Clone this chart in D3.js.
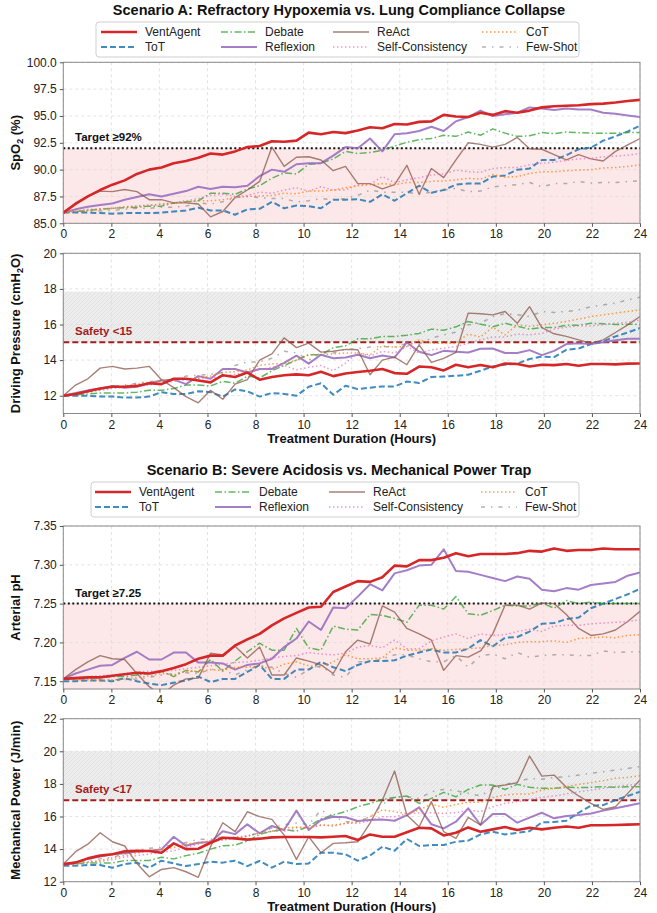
<!DOCTYPE html>
<html>
<head>
<meta charset="utf-8">
<script src="https://cdn.jsdelivr.net/npm/d3@7"></script>
<style>
  body { margin: 0; background: #fff; }
  svg { font-family: "Liberation Sans", Arial, sans-serif; }
</style>
</head>
<body>
<svg id="chart" width="657" height="913"></svg>
<script>
// time points (hours), 48 samples over 24 h
const hours = [0, 0.511, 1.021, 1.532, 2.043, 2.553, 3.064, 3.574, 4.085, 4.596,
  5.106, 5.617, 6.128, 6.638, 7.149, 7.660, 8.170, 8.681, 9.191, 9.702,
  10.213, 10.723, 11.234, 11.745, 12.255, 12.766, 13.277, 13.787, 14.298, 14.809,
  15.319, 15.830, 16.340, 16.851, 17.362, 17.872, 18.383, 18.894, 19.404, 19.915,
  20.426, 20.936, 21.447, 21.957, 22.468, 22.979, 23.489, 24];

const methods = ['VentAgent', 'ToT', 'Debate', 'Reflexion', 'ReAct', 'Self-Consistency', 'CoT', 'Few-Shot'];

// Scenario A: SpO2 (%)
const spo2 = {
  'VentAgent': [86.0,86.8,87.5,88.1,88.6,89.0,89.6,90.0,90.2,90.6,90.8,91.1,91.5,91.4,91.7,92.1,92.2,92.65,92.6,92.7,93.45,93.3,93.5,93.4,93.65,93.95,93.85,94.25,94.2,94.45,94.5,95.1,94.95,94.9,95.3,95.1,95.45,95.3,95.5,95.8,95.9,95.95,96.0,96.1,96.15,96.25,96.4,96.5],
  'ToT': [86.0,86.0,86.0,85.95,85.9,85.95,85.95,85.95,86.0,86.1,86.2,86.45,86.2,86.2,85.8,86.3,86.35,87.0,86.4,86.65,86.6,86.4,87.2,87.2,87.25,87.0,87.7,87.1,87.8,88.5,87.85,88.1,88.6,88.7,88.7,89.35,89.45,90.0,90.1,90.9,90.9,91.35,91.9,92.05,92.7,93.1,93.55,94.1],
  'Debate': [86.0,86.1,86.2,86.3,86.4,86.45,86.5,86.6,86.6,86.9,87.0,87.1,87.8,87.8,87.7,88.2,88.5,89.2,89.7,89.6,90.5,90.6,91.0,91.7,91.5,91.6,91.8,92.2,92.55,92.8,92.9,93.2,93.1,93.5,93.2,93.8,93.4,93.1,93.15,93.45,93.35,93.5,93.45,93.4,93.4,93.4,93.45,93.45],
  'Reflexion': [86.0,86.3,86.55,86.7,86.85,87.2,87.45,87.7,87.5,87.75,88.0,88.4,88.2,88.4,88.35,88.5,89.4,90.0,89.8,90.5,90.6,90.6,91.3,92.1,92.0,92.9,91.7,93.3,93.4,93.6,94.0,93.6,94.5,94.9,95.5,95.0,95.15,95.3,95.8,95.7,95.55,95.7,95.6,95.6,95.3,95.2,95.05,94.9],
  'ReAct': [86.0,86.9,87.5,88.0,87.95,88.15,87.95,87.2,87.2,86.9,86.9,86.8,85.6,86.1,87.4,88.1,88.9,92.1,90.3,91.15,91.2,90.9,89.9,90.3,88.7,88.7,88.2,88.6,90.4,87.7,90.1,89.25,90.9,92.5,92.35,92.1,92.35,93.0,91.95,91.9,91.4,90.9,91.4,91.0,90.8,91.7,92.3,92.9],
  'Self-Consistency': [86.0,86.15,86.3,86.35,86.4,86.55,86.6,86.7,86.75,86.9,87.1,87.3,87.6,87.7,87.5,87.6,87.9,87.8,88.1,88.3,88.0,88.4,88.1,88.1,88.6,88.65,89.35,88.8,89.05,89.25,89.5,89.6,89.95,89.8,89.75,90.1,90.2,90.2,90.45,90.6,90.7,90.85,91.0,91.05,91.2,91.25,91.35,91.5],
  'CoT': [86.0,86.1,86.2,86.3,86.4,86.5,86.6,86.65,86.8,86.9,87.0,87.1,87.1,87.2,87.4,87.5,87.55,87.6,87.8,87.75,88.0,88.0,88.1,88.3,88.5,88.6,88.7,88.6,88.8,88.8,88.9,88.95,89.05,89.2,89.1,89.55,89.3,89.35,89.65,89.8,89.8,89.9,89.95,90.0,90.15,90.2,90.3,90.45],
  'Few-Shot': [86.0,86.05,86.1,86.15,86.2,86.3,86.4,86.4,86.5,86.5,86.6,86.9,86.8,87.0,87.4,87.5,87.4,87.3,87.3,87.0,87.1,87.3,87.2,87.3,87.6,88.1,87.9,87.9,87.9,87.7,87.9,88.1,88.25,87.95,88.0,88.4,88.5,88.6,88.8,88.4,88.7,88.7,88.9,88.75,88.8,88.8,88.9,88.95]
};

// Scenario A: driving pressure (cmH2O)
const drivingPressure = {
  'VentAgent': [12.0,12.1,12.25,12.4,12.5,12.5,12.55,12.7,12.65,12.95,12.95,12.85,12.75,13.15,13.05,13.3,12.9,13.05,13.15,13.2,13.15,13.35,13.1,13.25,13.33,13.4,13.5,13.27,13.23,13.64,13.6,13.42,13.74,13.6,13.72,13.6,13.81,13.78,13.64,13.74,13.72,13.78,13.68,13.78,13.78,13.76,13.8,13.81],
  'ToT': [12.0,12.0,12.0,11.95,11.95,11.9,11.9,11.95,12.2,12.1,12.1,12.25,12.2,11.95,12.35,12.25,11.95,12.15,12.1,12.0,12.5,12.7,12.05,12.56,12.37,12.45,12.52,12.52,12.8,12.71,13.05,13.08,13.12,13.18,13.4,13.64,13.74,13.8,14.06,14.2,14.17,14.58,14.65,14.9,15.05,15.33,15.55,15.8],
  'Debate': [12.0,12.05,12.1,12.15,12.15,12.15,12.2,12.3,12.3,12.4,12.6,12.6,12.55,12.8,12.7,13.1,13.0,13.4,13.7,14.0,14.3,14.3,14.7,14.8,15.2,15.2,15.33,15.33,15.4,15.5,15.74,15.68,15.87,16.17,16.02,15.87,16.07,15.9,15.74,15.83,15.83,15.96,15.96,16.07,16.04,16.0,16.02,16.0],
  'Reflexion': [12.0,12.15,12.3,12.4,12.55,12.45,12.5,12.7,12.85,12.9,12.65,13.1,12.95,13.5,13.5,13.3,13.5,13.5,13.85,14.25,13.8,14.3,14.1,14.15,14.3,14.1,14.26,14.15,14.99,14.47,14.28,14.52,14.47,14.43,14.64,14.65,14.4,14.4,14.56,14.28,14.52,14.9,14.95,14.9,15.0,15.12,15.2,15.2],
  'ReAct': [12.0,12.6,12.95,13.55,13.65,13.5,13.55,13.65,12.9,12.45,11.95,11.6,12.3,11.8,12.65,12.9,14.0,14.35,15.25,14.7,14.95,14.45,14.5,14.6,14.58,13.18,14.0,14.17,13.74,14.86,13.87,14.1,14.43,16.64,16.6,16.54,16.73,16.07,17.0,15.83,15.48,15.33,15.14,14.95,15.14,15.55,15.98,16.45],
  'Self-Consistency': [12.0,12.1,12.2,12.3,12.4,12.5,12.55,12.6,12.7,12.8,12.9,12.95,13.0,13.1,13.2,13.3,13.45,13.6,13.7,13.45,13.6,13.7,13.4,13.83,14.4,14.24,14.49,14.4,14.76,14.4,14.58,14.67,14.76,14.95,15.14,15.3,15.3,15.46,15.42,15.5,15.74,15.85,15.92,15.92,15.98,16.07,16.13,16.26],
  'CoT': [12.0,12.1,12.2,12.35,12.45,12.55,12.65,12.75,12.85,12.9,12.95,13.0,13.1,13.3,13.35,13.45,13.7,13.8,13.8,14.0,14.3,14.3,14.35,14.4,14.4,14.3,14.8,14.73,14.76,15.14,14.95,14.95,14.95,15.46,15.3,15.85,15.42,15.98,15.9,15.98,16.07,16.17,16.3,16.45,16.54,16.64,16.73,16.82],
  'Few-Shot': [12.0,12.1,12.2,12.35,12.5,12.6,12.7,12.8,12.85,12.9,13.1,13.15,13.2,13.3,13.7,13.9,13.9,14.1,14.5,14.4,14.0,14.4,14.4,14.6,14.65,14.73,14.76,14.73,14.95,14.9,15.23,15.42,15.57,15.98,16.07,16.45,16.6,16.55,16.45,16.73,16.68,16.73,16.82,17.0,17.1,17.2,17.38,17.53]
};

// Scenario B: arterial pH
const arterialPH = {
  'VentAgent': [7.153,7.154,7.155,7.155,7.157,7.159,7.161,7.160,7.163,7.167,7.172,7.179,7.183,7.183,7.196,7.204,7.211,7.222,7.231,7.238,7.245,7.246,7.265,7.272,7.279,7.278,7.284,7.299,7.298,7.306,7.306,7.309,7.315,7.311,7.314,7.314,7.314,7.315,7.318,7.317,7.321,7.318,7.319,7.319,7.321,7.320,7.320,7.320],
  'ToT': [7.150,7.150,7.151,7.151,7.150,7.154,7.150,7.147,7.145,7.148,7.151,7.156,7.149,7.153,7.153,7.162,7.171,7.153,7.153,7.165,7.165,7.175,7.168,7.163,7.171,7.176,7.176,7.177,7.183,7.187,7.191,7.187,7.187,7.192,7.203,7.195,7.206,7.207,7.214,7.224,7.225,7.230,7.232,7.244,7.250,7.256,7.262,7.269],
  'Debate': [7.153,7.153,7.154,7.155,7.156,7.156,7.158,7.160,7.163,7.156,7.164,7.162,7.178,7.163,7.176,7.188,7.199,7.190,7.190,7.218,7.193,7.190,7.221,7.217,7.216,7.236,7.235,7.231,7.226,7.248,7.248,7.243,7.259,7.237,7.235,7.241,7.248,7.247,7.247,7.251,7.244,7.254,7.250,7.252,7.250,7.250,7.250,7.250],
  'Reflexion': [7.153,7.160,7.165,7.170,7.171,7.180,7.188,7.178,7.178,7.187,7.187,7.174,7.174,7.173,7.165,7.171,7.173,7.179,7.194,7.205,7.227,7.216,7.245,7.244,7.259,7.275,7.267,7.289,7.293,7.299,7.300,7.320,7.292,7.291,7.287,7.283,7.279,7.285,7.282,7.268,7.266,7.270,7.268,7.274,7.276,7.278,7.286,7.290],
  'ReAct': [7.153,7.165,7.175,7.183,7.179,7.178,7.160,7.143,7.132,7.145,7.153,7.154,7.186,7.184,7.195,7.180,7.194,7.158,7.158,7.180,7.176,7.171,7.160,7.188,7.203,7.198,7.247,7.239,7.218,7.211,7.203,7.164,7.183,7.181,7.189,7.211,7.248,7.248,7.243,7.251,7.250,7.236,7.218,7.209,7.211,7.216,7.227,7.240],
  'Self-Consistency': [7.153,7.155,7.156,7.157,7.158,7.160,7.162,7.163,7.163,7.164,7.166,7.168,7.170,7.172,7.174,7.175,7.177,7.180,7.182,7.183,7.187,7.185,7.184,7.186,7.194,7.196,7.193,7.203,7.192,7.192,7.202,7.207,7.211,7.205,7.211,7.209,7.210,7.214,7.217,7.214,7.221,7.222,7.222,7.224,7.225,7.226,7.227,7.229],
  'CoT': [7.153,7.152,7.152,7.151,7.152,7.153,7.155,7.157,7.160,7.158,7.163,7.163,7.165,7.164,7.168,7.168,7.170,7.165,7.172,7.175,7.170,7.168,7.175,7.184,7.179,7.179,7.180,7.193,7.190,7.190,7.192,7.190,7.191,7.192,7.193,7.196,7.197,7.200,7.201,7.201,7.202,7.200,7.205,7.206,7.207,7.206,7.209,7.210],
  'Few-Shot': [7.153,7.152,7.152,7.152,7.152,7.152,7.153,7.155,7.158,7.160,7.161,7.160,7.165,7.165,7.158,7.165,7.170,7.168,7.160,7.155,7.165,7.170,7.158,7.155,7.175,7.175,7.179,7.184,7.184,7.179,7.175,7.175,7.183,7.168,7.183,7.185,7.179,7.187,7.181,7.183,7.184,7.184,7.183,7.183,7.189,7.187,7.188,7.188]
};

// Scenario B: mechanical power (J/min)
const mechanicalPower = {
  'VentAgent': [13.08,13.17,13.43,13.6,13.68,13.86,13.9,13.88,13.78,14.35,14.0,14.02,14.39,14.7,14.66,14.58,14.64,14.72,14.74,14.74,14.74,14.72,14.76,14.8,14.56,14.9,14.76,14.76,15.03,15.31,15.27,14.84,15.0,15.33,15.07,15.21,15.35,15.17,15.31,15.21,15.31,15.39,15.31,15.46,15.46,15.48,15.5,15.52],
  'ToT': [12.98,12.98,13.02,13.02,12.86,13.08,13.17,12.86,13.29,13.12,12.96,13.08,13.23,13.17,13.29,12.96,13.27,12.86,13.23,13.08,13.12,13.78,13.78,13.68,13.29,13.6,14.15,13.9,14.62,14.19,14.25,14.25,14.45,14.52,14.9,15.07,14.9,15.0,15.1,15.64,15.66,15.74,16.23,16.66,16.7,17.01,17.26,17.52],
  'Debate': [13.05,13.1,13.15,13.15,13.15,13.3,13.3,13.3,13.5,13.4,13.6,13.75,14.0,14.2,14.25,14.5,14.9,15.1,15.2,15.1,15.4,15.85,16.1,16.3,16.6,16.8,17.05,17.17,17.26,16.8,17.11,17.48,17.21,17.66,17.93,17.93,17.66,17.97,17.79,17.73,17.73,17.79,17.77,17.79,17.83,17.79,17.83,17.83],
  'Reflexion': [13.05,13.2,13.4,13.55,13.68,13.74,13.85,13.9,13.98,14.76,14.2,14.39,14.43,15.1,14.92,15.52,14.97,15.42,15.17,16.36,15.17,15.78,15.99,15.95,15.72,15.78,15.82,15.74,16.09,16.56,15.52,15.27,15.68,16.5,15.48,16.15,16.15,15.62,15.93,16.23,15.89,16.03,16.09,16.19,16.36,16.5,16.66,16.81],
  'ReAct': [13.08,13.84,14.3,15.0,14.45,14.19,13.12,12.3,12.75,12.86,12.61,12.27,14.15,15.62,15.07,16.29,15.99,15.82,14.86,13.37,14.76,13.78,14.35,14.39,14.45,15.6,17.0,18.79,16.09,15.37,16.91,15.07,14.66,15.95,15.48,17.83,17.93,18.07,19.71,18.48,18.54,17.79,17.26,16.81,16.44,16.6,17.42,18.24],
  'Self-Consistency': [13.05,13.1,13.2,13.25,13.35,13.5,13.6,13.7,13.8,13.9,14.1,14.3,14.5,14.55,14.65,14.8,15.0,15.1,15.1,15.3,15.35,15.5,15.4,15.58,15.58,15.74,15.99,15.99,16.15,16.23,16.23,16.19,16.23,16.4,16.3,16.6,16.81,16.91,17.05,17.17,17.26,17.38,17.52,17.62,17.73,17.83,17.93,17.99],
  'CoT': [13.05,13.1,13.2,13.3,13.45,13.6,13.75,13.9,14.0,14.1,14.3,14.4,14.5,14.6,14.75,14.8,15.0,15.1,15.3,15.35,15.3,15.45,15.48,15.58,15.68,15.99,16.4,16.3,16.15,16.4,16.76,16.56,16.74,16.87,16.87,17.17,17.32,17.38,17.38,17.62,17.73,17.83,17.97,18.07,18.2,18.34,18.4,18.5],
  'Few-Shot': [13.05,13.15,13.3,13.4,13.5,13.7,13.9,14.05,14.1,14.3,14.4,14.6,14.6,14.75,14.6,14.8,15.0,15.3,15.5,15.6,15.5,16.4,16.0,15.68,15.68,15.95,16.74,17.21,17.21,17.11,17.52,17.66,17.58,17.42,17.26,17.73,17.97,18.13,18.34,18.28,18.4,18.44,18.54,18.65,18.75,18.85,18.95,19.06]
};

const xTicks = [0, 2, 4, 6, 8, 10, 12, 14, 16, 18, 20, 22, 24];

// line styles per method
const styles = {
  'VentAgent':        { color: '#d62728', width: 2.6, dash: null,            opacity: 1 },
  'ToT':              { color: '#1f77b4', width: 2,   dash: '6,3',           opacity: 0.85 },
  'Debate':           { color: '#2ca02c', width: 1.5, dash: '7,2.5,1.5,2.5', opacity: 0.75 },
  'Reflexion':        { color: '#9467bd', width: 2,   dash: null,            opacity: 0.85 },
  'ReAct':            { color: '#8c564b', width: 1.4, dash: null,            opacity: 0.75 },
  'Self-Consistency': { color: '#e377c2', width: 1.5, dash: '1.5,2.5',       opacity: 0.75 },
  'CoT':              { color: '#ff7f0e', width: 1.5, dash: '1.5,2.5',       opacity: 0.75 },
  'Few-Shot':         { color: '#7f7f7f', width: 1.5, dash: '4,6,1.5,6',     opacity: 0.6 }
};

const svg = d3.select('#chart');
const left = 63.3, right = 640;
const x = d3.scaleLinear().domain([0, 24]).range([left, right]);

// hatch pattern for safety bands
const defs = svg.append('defs');
const hatch = defs.append('pattern')
    .attr('id', 'hatch')
    .attr('patternUnits', 'userSpaceOnUse')
    .attr('width', 4).attr('height', 4);
hatch.append('rect').attr('width', 4).attr('height', 4).attr('fill', '#ededed');
hatch.append('path').attr('d', 'M0,4 L4,0 M-1,1 L1,-1 M3,5 L5,3')
    .attr('stroke', '#dcdcdc').attr('stroke-width', 0.7);

function drawPanel(id, p) {
    let y = d3.scaleLinear().domain(p.domain).range([p.bottom, p.top]);
    let g = svg.append('g');

    defs.append('clipPath').attr('id', 'clip' + id)
        .append('rect')
        .attr('x', left).attr('y', p.top)
        .attr('width', right - left).attr('height', p.bottom - p.top);

    // reference zones
    if (p.ref.kind === 'target') {
        g.append('rect')
            .attr('x', left).attr('width', right - left)
            .attr('y', y(p.ref.value)).attr('height', p.bottom - y(p.ref.value))
            .attr('fill', 'rgba(230,50,50,0.11)');
    } else {
        g.append('rect')
            .attr('x', left).attr('width', right - left)
            .attr('y', y(p.ref.bandTop)).attr('height', y(p.ref.value) - y(p.ref.bandTop))
            .attr('fill', 'url(#hatch)');
    }

    // grid
    g.append('g').selectAll('line').data(xTicks).join('line')
        .attr('x1', d => x(d)).attr('x2', d => x(d))
        .attr('y1', p.top).attr('y2', p.bottom)
        .attr('stroke', '#dcdcdc').attr('stroke-width', 0.8).attr('stroke-dasharray', '3,3');
    g.append('g').selectAll('line').data(p.ticks).join('line')
        .attr('x1', left).attr('x2', right)
        .attr('y1', d => y(d)).attr('y2', d => y(d))
        .attr('stroke', '#dcdcdc').attr('stroke-width', 0.8).attr('stroke-dasharray', '3,3');

    // reference line + label
    let refY = y(p.ref.value);
    g.append('line')
        .attr('x1', left).attr('x2', right).attr('y1', refY).attr('y2', refY)
        .attr('stroke', p.ref.kind === 'target' ? '#111' : '#a51c1c')
        .attr('stroke-width', 2)
        .attr('stroke-dasharray', p.ref.kind === 'target' ? '2,2.5' : '6,3');
    g.append('text')
        .attr('x', 75).attr('y', refY - 7)
        .attr('font-size', 11.5).attr('font-weight', 'bold')
        .attr('fill', p.ref.kind === 'target' ? '#111' : '#a51c1c')
        .text(p.ref.text);

    // series
    let lineGen = d3.line()
        .x((d, i) => x(hours[i]))
        .y(d => y(d));
    let lines = g.append('g').attr('clip-path', `url(#clip${id})`);
    let order = methods.filter(m => m !== 'VentAgent').concat(['VentAgent']);
    order.forEach(m => {
        let s = styles[m];
        lines.append('path')
            .attr('d', lineGen(p.data[m]))
            .attr('fill', 'none')
            .attr('stroke', s.color)
            .attr('stroke-width', s.width)
            .attr('stroke-opacity', s.opacity)
            .attr('stroke-dasharray', s.dash)
            .attr('stroke-linejoin', 'round');
    });

    // frame
    g.append('rect')
        .attr('x', left).attr('y', p.top)
        .attr('width', right - left).attr('height', p.bottom - p.top)
        .attr('fill', 'none').attr('stroke', '#8a8a8a').attr('stroke-width', 1);

    // axes
    let xAxis = d3.axisBottom(x).tickValues(xTicks).tickSize(3.5).tickPadding(3);
    let yAxis = d3.axisLeft(y).tickValues(p.ticks).tickFormat(p.fmt).tickSize(3.5).tickPadding(3);
    let ax = g.append('g').attr('transform', `translate(0,${p.bottom})`).call(xAxis);
    let ay = g.append('g').attr('transform', `translate(${left},0)`).call(yAxis);
    [ax, ay].forEach(a => {
        a.select('.domain').remove();
        a.selectAll('.tick line').attr('stroke', '#555');
        a.selectAll('.tick text')
            .attr('font-size', 12)
            .attr('fill', '#222')
            .attr('font-family', '"Liberation Sans", Arial, sans-serif');
    });

    // y label with subscript
    let yl = g.append('text')
        .attr('transform', `translate(20,${(p.top + p.bottom) / 2}) rotate(-90)`)
        .attr('text-anchor', 'middle')
        .attr('font-size', 13).attr('font-weight', 'bold').attr('fill', '#111');
    yl.append('tspan').text(p.label[0]);
    if (p.label[1]) {
        yl.append('tspan').attr('font-size', 9).attr('dy', 3).text(p.label[1]);
        yl.append('tspan').attr('dy', -3).text(p.label[2]);
    }

    if (p.xlabel) {
        g.append('text')
            .attr('x', (left + right) / 2).attr('y', p.bottom + 29.5)
            .attr('text-anchor', 'middle')
            .attr('font-size', 13).attr('font-weight', 'bold').attr('fill', '#111')
            .text('Treatment Duration (Hours)');
    }
}

function drawLegend(bx, by, bw, bh, cols) {
    let g = svg.append('g');
    g.append('rect')
        .attr('x', bx).attr('y', by).attr('width', bw).attr('height', bh)
        .attr('rx', 3).attr('fill', '#fff').attr('stroke', '#cfcfcf');
    methods.forEach((m, i) => {
        let c = Math.floor(i / 2), r = i % 2;
        let lx = cols[c], ly = by + 10 + r * 15;
        let s = styles[m];
        g.append('line')
            .attr('x1', lx).attr('x2', lx + 36).attr('y1', ly).attr('y2', ly)
            .attr('stroke', s.color).attr('stroke-width', s.width)
            .attr('stroke-opacity', s.opacity).attr('stroke-dasharray', s.dash);
        g.append('text')
            .attr('x', lx + 44).attr('y', ly + 4)
            .attr('font-size', 12).attr('fill', '#222')
            .text(m);
    });
}

function drawTitle(text, ty) {
    svg.append('text')
        .attr('x', 339).attr('y', ty)
        .attr('text-anchor', 'middle')
        .attr('font-size', 14.5).attr('font-weight', 'bold').attr('fill', '#111')
        .text(text);
}

drawTitle('Scenario A: Refractory Hypoxemia vs. Lung Compliance Collapse', 15);
drawLegend(96, 22, 483, 35, [101, 221, 333, 482]);
drawTitle('Scenario B: Severe Acidosis vs. Mechanical Power Trap', 475);
drawLegend(91, 482, 488, 35, [95, 215, 329, 481]);

drawPanel(1, {
    top: 62.3, bottom: 223.3, domain: [85, 100],
    ticks: [85, 87.5, 90, 92.5, 95, 97.5, 100], fmt: d3.format('.1f'),
    data: spo2, label: ['SpO', '2', ' (%)'],
    ref: { kind: 'target', value: 92, text: 'Target ≥92%' }, xlabel: false
});
drawPanel(2, {
    top: 253.3, bottom: 413.5, domain: [11, 20],
    ticks: [12, 14, 16, 18, 20], fmt: d3.format('d'),
    data: drivingPressure, label: ['Driving Pressure (cmH', '2', 'O)'],
    ref: { kind: 'safety', value: 15, bandTop: 17.85, text: 'Safety <15' }, xlabel: true
});
drawPanel(3, {
    top: 526, bottom: 689, domain: [7.14, 7.35],
    ticks: [7.15, 7.20, 7.25, 7.30, 7.35], fmt: d3.format('.2f'),
    data: arterialPH, label: ['Arterial pH'],
    ref: { kind: 'target', value: 7.25, text: 'Target ≥7.25' }, xlabel: false
});
drawPanel(4, {
    top: 718.7, bottom: 881.7, domain: [12, 22],
    ticks: [12, 14, 16, 18, 20, 22], fmt: d3.format('d'),
    data: mechanicalPower, label: ['Mechanical Power (J/min)'],
    ref: { kind: 'safety', value: 17, bandTop: 20, text: 'Safety <17' }, xlabel: true
});
</script>
</body>
</html>
